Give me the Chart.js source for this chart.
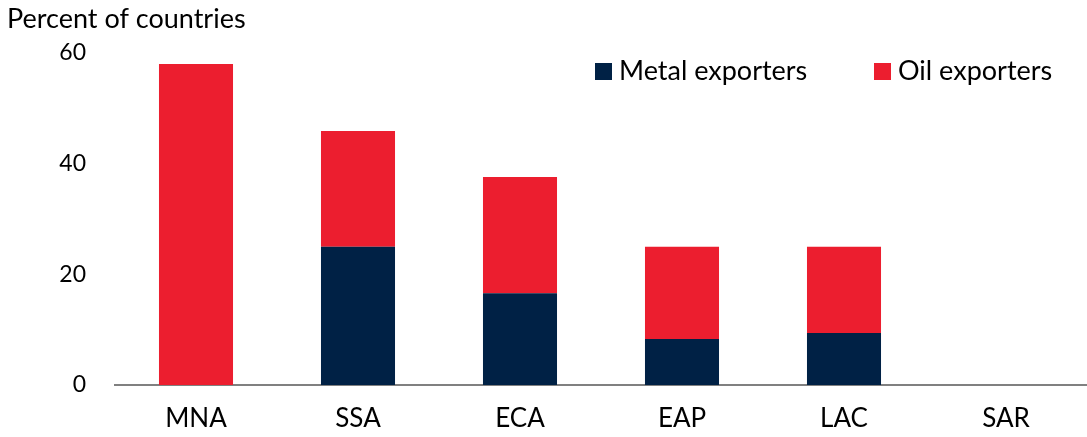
<!DOCTYPE html>
<html>
<head>
<meta charset="utf-8">
<script src="https://cdn.jsdelivr.net/npm/chart.js@4.4.1/dist/chart.umd.min.js"></script>
<style>
  html, body { margin: 0; padding: 0; background: #fff; }
  #wrap { width: 1087px; height: 437px; position: relative; }
</style>
</head>
<body>
<div id="wrap"><canvas id="chart"></canvas></div>
<script>
// data
const regions = ['MNA', 'SSA', 'ECA', 'EAP', 'LAC', 'SAR'];
const metalExporters = [0, 25, 16.6, 8.3, 9.4, 0];
const oilExporters = [58, 20.9, 21, 16.7, 15.6, 0];
const yTicks = [0, 20, 40, 60];
const yTitle = 'Percent of countries';

const navy = '#002145';
const red = '#EC1E2F';
const fontFamily = 'Lato, "Open Sans", sans-serif';

// title + legend drawn by hand, top-left and top-right like the original
const extrasPlugin = {
    id: 'extras',
    afterDraw(chart) {
        const ctx = chart.ctx;
        ctx.save();
        ctx.fillStyle = '#000';
        ctx.font = '27px ' + fontFamily;
        ctx.textBaseline = 'middle';
        ctx.textAlign = 'left';
        ctx.fillText(yTitle, 7, 19);

        // legend
        const items = [
            { x: 595, label: chart.data.datasets[0].label, color: chart.data.datasets[0].backgroundColor },
            { x: 874, label: chart.data.datasets[1].label, color: chart.data.datasets[1].backgroundColor }
        ];
        items.forEach(function(it) {
            ctx.fillStyle = it.color;
            ctx.fillRect(it.x, 63, 17, 17);
            ctx.fillStyle = '#000';
            ctx.fillText(it.label, it.x + 24, 71);
        });
        ctx.restore();
    }
};

const ctx = document.getElementById('chart').getContext('2d');
new Chart(ctx, {
    type: 'bar',
    data: {
        labels: regions,
        datasets: [
            { label: 'Metal exporters', data: metalExporters, backgroundColor: navy },
            { label: 'Oil exporters', data: oilExporters, backgroundColor: red }
        ]
    },
    options: {
        responsive: true,
        maintainAspectRatio: false,
        animation: false,
        layout: { padding: { top: 53, right: 0, bottom: 0, left: 0 } },
        plugins: {
            legend: { display: false },
            tooltip: { enabled: false }
        },
        datasets: {
            bar: { barPercentage: 0.457, categoryPercentage: 1.0 }
        },
        scales: {
            x: {
                stacked: true,
                grid: { display: false, drawTicks: false },
                border: { display: true, color: '#808080', width: 2 },
                ticks: { color: '#000', font: { family: fontFamily, size: 26 }, padding: 18 },
                afterFit: function(scale) { scale.height = 52; }
            },
            y: {
                stacked: true,
                min: 0,
                max: 60,
                grid: { display: false, drawTicks: false },
                border: { display: false },
                afterBuildTicks: function(scale) {
                    scale.ticks = yTicks.map(v => ({ value: v }));
                },
                ticks: { color: '#000', font: { family: fontFamily, size: 23 }, padding: 29 },
                afterFit: function(scale) { scale.width = 115; }
            }
        }
    },
    plugins: [extrasPlugin]
});
</script>
</body>
</html>
